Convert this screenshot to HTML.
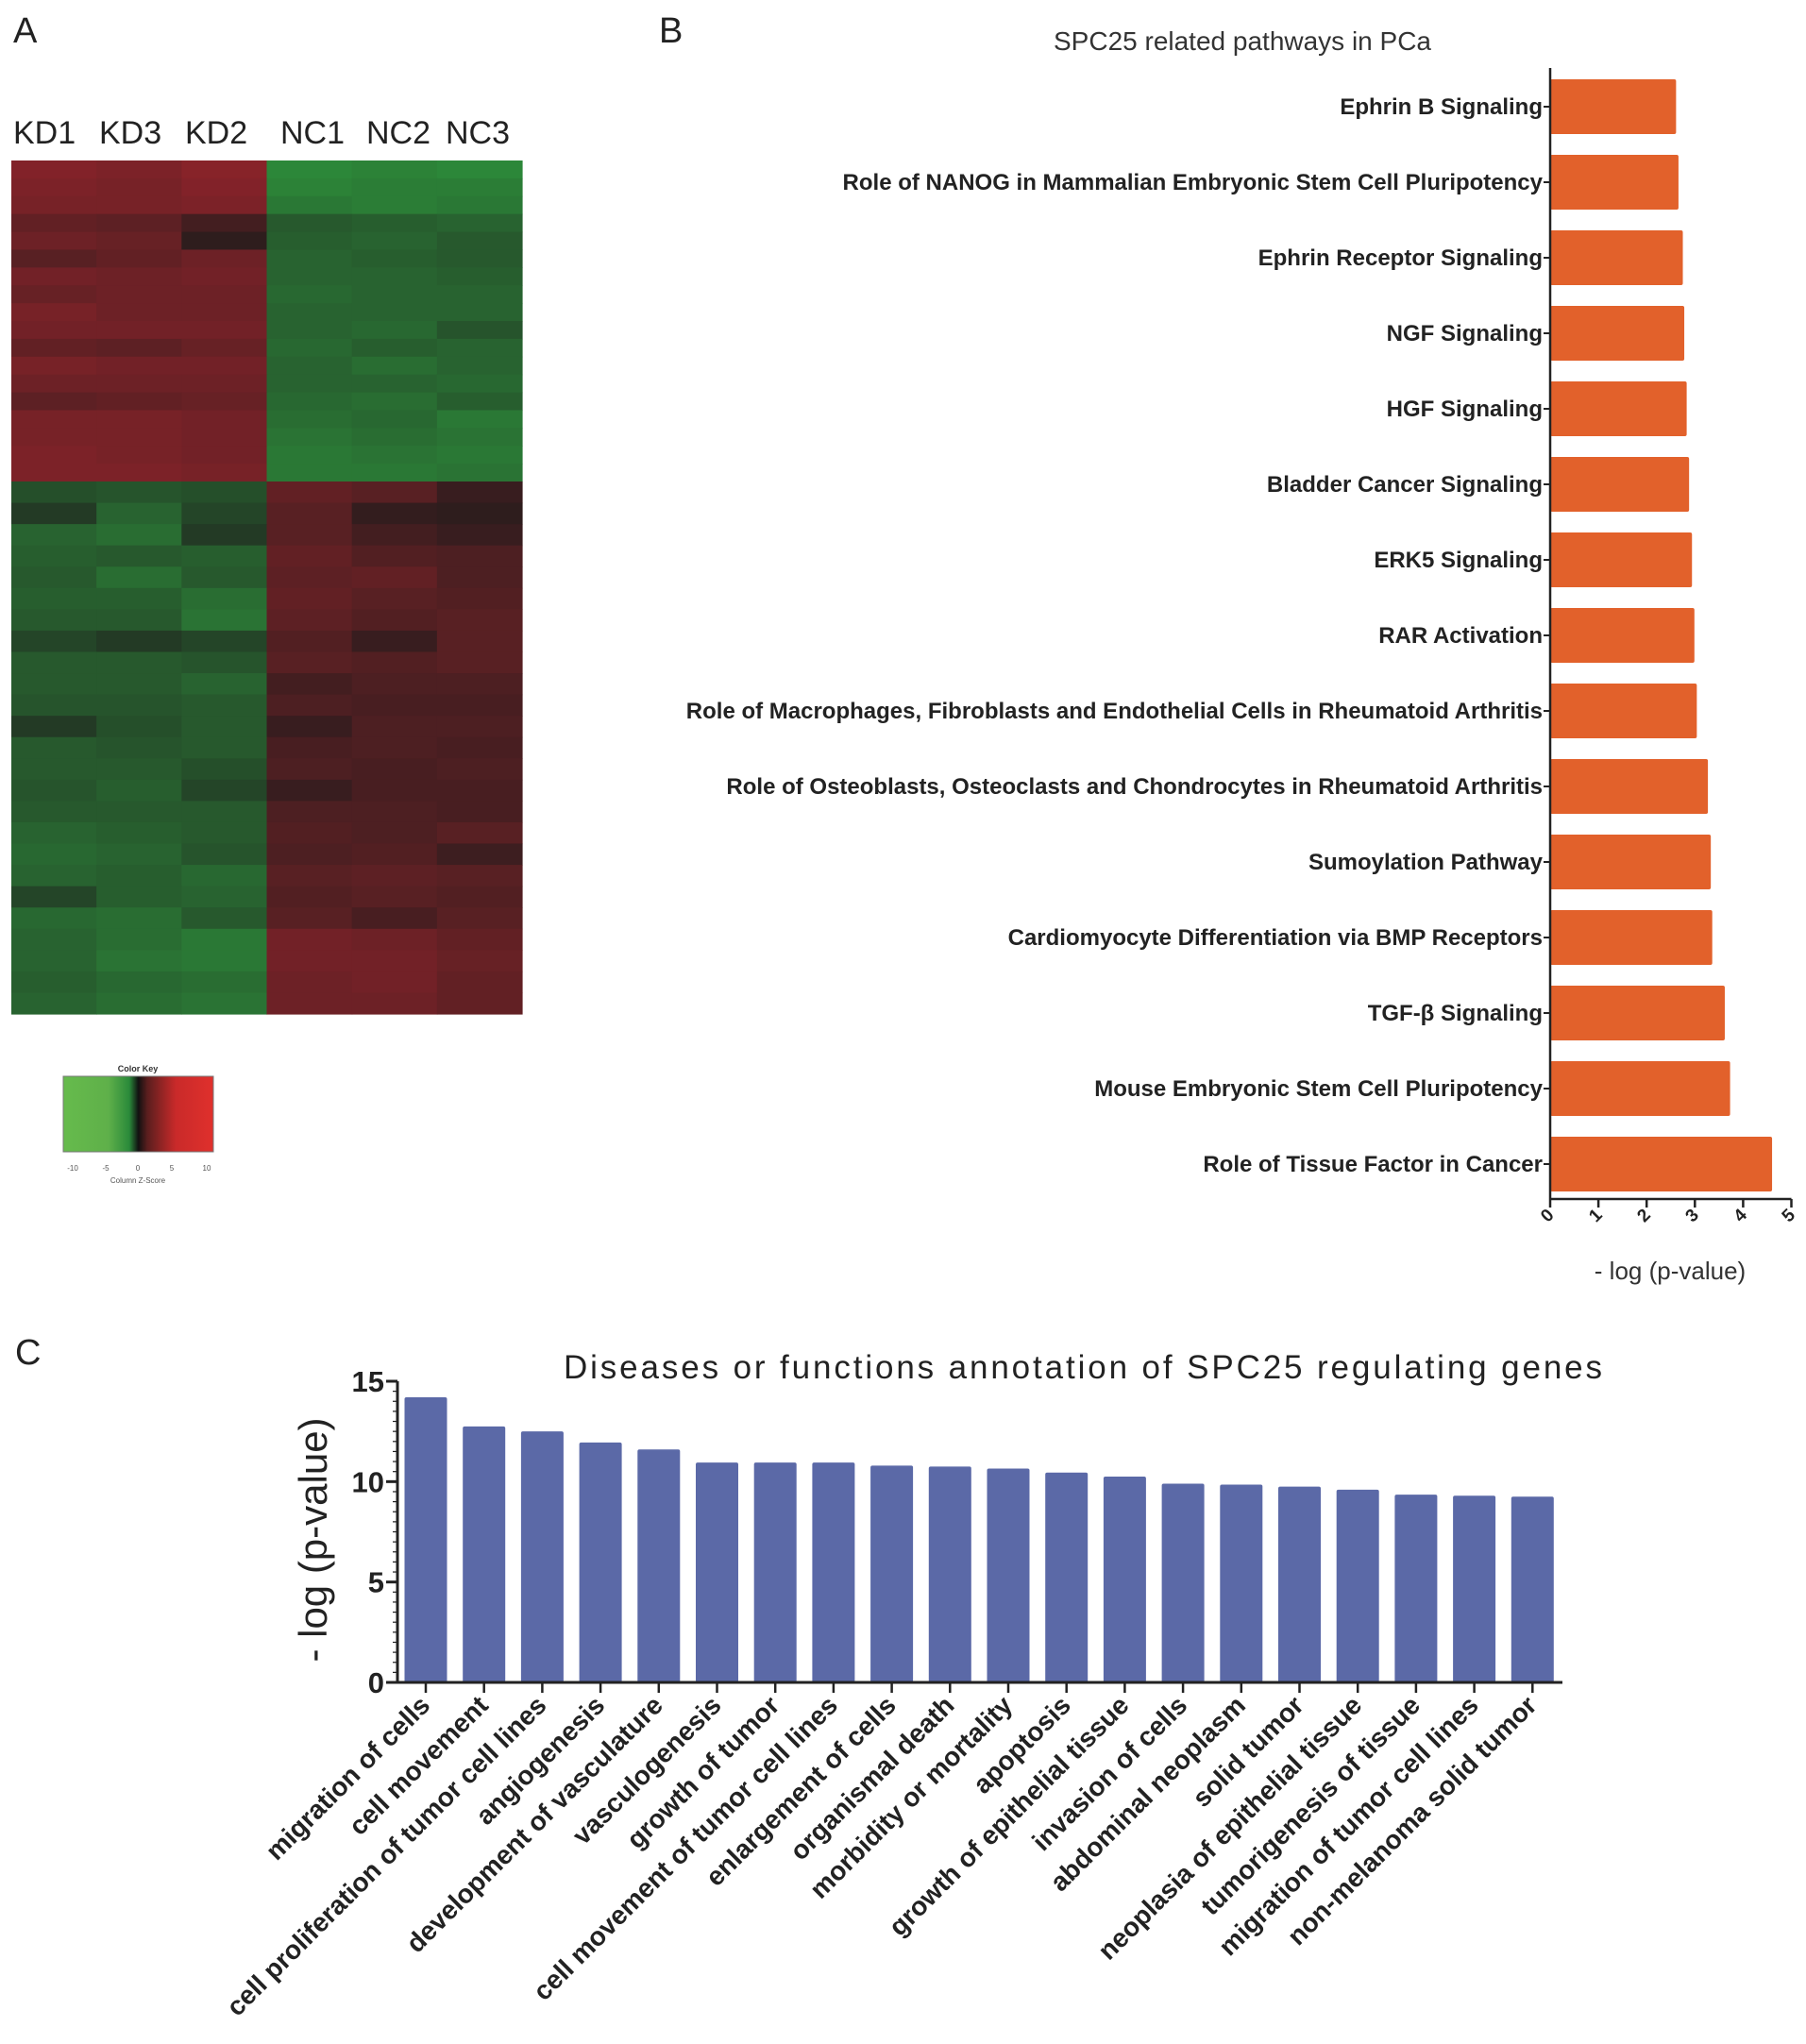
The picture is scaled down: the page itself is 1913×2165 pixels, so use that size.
<!DOCTYPE html>
<html><head><meta charset="utf-8">
<style>
html,body{margin:0;padding:0;background:#fff;}
svg{display:block;font-family:"Liberation Sans",Arial,sans-serif;}
</style></head>
<body>
<svg id="fig" width="1913" height="2165" viewBox="0 0 1913 2165" xmlns="http://www.w3.org/2000/svg">
  <text x="14" y="45" font-size="38" fill="#222">A</text>
  <text x="698" y="45" font-size="38" fill="#222">B</text>
  <text x="16" y="1445" font-size="38" fill="#222">C</text>
  <g id="heat"></g>
  <g id="hlabels"></g>
  <g id="key">
    <defs>
      <linearGradient id="kg" x1="0" x2="1" y1="0" y2="0">
        <stop offset="0" stop-color="#66bb4c"/>
        <stop offset="0.3" stop-color="#5fb04a"/>
        <stop offset="0.44" stop-color="#2a8a3a"/>
        <stop offset="0.5" stop-color="#111"/>
        <stop offset="0.56" stop-color="#5a1e1e"/>
        <stop offset="0.75" stop-color="#c92a2a"/>
        <stop offset="1" stop-color="#e0302c"/>
      </linearGradient>
    </defs>
    <text x="146" y="1135" font-size="9" font-weight="bold" text-anchor="middle" fill="#333">Color Key</text>
    <rect x="67" y="1140" width="159" height="80" fill="url(#kg)" stroke="#777" stroke-width="1"/>
    <text x="146" y="1253" font-size="8" text-anchor="middle" fill="#555">Column Z-Score</text>
    <g font-size="8" fill="#555" text-anchor="middle">
      <text x="77" y="1240">-10</text><text x="112" y="1240">-5</text><text x="146" y="1240">0</text><text x="182" y="1240">5</text><text x="219" y="1240">10</text>
    </g>
  </g>
  <g id="chartB"></g>
  <g id="chartC"></g>
</svg>
<script>
// ---------- Heatmap data (6 columns KD1 KD3 KD2 NC1 NC2 NC3; +red / -green)
const heatCols = ["KD1","KD3","KD2","NC1","NC2","NC3"];
const heatTopRows = [
 [0.9,0.85,0.95,-0.95,-0.9,-0.95],[0.85,0.8,0.9,-0.9,-0.85,-0.85],[0.8,0.8,0.85,-0.8,-0.85,-0.8],
 [0.6,0.55,0.3,-0.5,-0.55,-0.6],[0.7,0.65,0.1,-0.55,-0.6,-0.5],[0.5,0.6,0.7,-0.6,-0.55,-0.5],
 [0.75,0.7,0.75,-0.6,-0.6,-0.55],[0.65,0.7,0.7,-0.65,-0.6,-0.6],[0.8,0.7,0.7,-0.6,-0.6,-0.6],
 [0.75,0.75,0.75,-0.6,-0.65,-0.45],[0.6,0.55,0.65,-0.65,-0.55,-0.6],[0.8,0.75,0.75,-0.6,-0.7,-0.6],
 [0.7,0.7,0.7,-0.6,-0.6,-0.65],[0.55,0.6,0.65,-0.65,-0.7,-0.55],[0.8,0.8,0.75,-0.7,-0.65,-0.8],
 [0.8,0.8,0.75,-0.75,-0.7,-0.75],[0.85,0.8,0.75,-0.8,-0.75,-0.8],[0.85,0.85,0.8,-0.8,-0.8,-0.75]
];
const heatBottomRows = [
 [-0.4,-0.45,-0.4,0.6,0.5,0.2],[-0.2,-0.6,-0.3,0.5,0.15,0.1],[-0.6,-0.7,-0.2,0.5,0.3,0.2],
 [-0.55,-0.5,-0.55,0.6,0.45,0.4],[-0.5,-0.7,-0.5,0.55,0.6,0.4],[-0.55,-0.55,-0.7,0.6,0.5,0.45],
 [-0.5,-0.5,-0.75,0.55,0.45,0.5],[-0.3,-0.2,-0.3,0.45,0.2,0.5],[-0.5,-0.5,-0.45,0.5,0.45,0.5],
 [-0.5,-0.5,-0.6,0.3,0.4,0.4],[-0.45,-0.45,-0.5,0.4,0.35,0.35],[-0.2,-0.4,-0.5,0.2,0.4,0.4],
 [-0.5,-0.45,-0.5,0.35,0.4,0.35],[-0.5,-0.5,-0.4,0.4,0.35,0.4],[-0.45,-0.55,-0.3,0.2,0.35,0.35],
 [-0.5,-0.5,-0.5,0.4,0.4,0.35],[-0.6,-0.55,-0.5,0.45,0.4,0.5],[-0.65,-0.6,-0.45,0.4,0.45,0.25],
 [-0.6,-0.55,-0.65,0.5,0.55,0.5],[-0.3,-0.55,-0.6,0.45,0.5,0.45],[-0.65,-0.7,-0.5,0.5,0.35,0.5],
 [-0.6,-0.7,-0.8,0.75,0.7,0.6],[-0.6,-0.75,-0.8,0.75,0.75,0.65],[-0.55,-0.65,-0.7,0.7,0.75,0.6],
 [-0.6,-0.7,-0.75,0.7,0.7,0.6]
];
// ---------- Panel B data
const pathways = ["Ephrin B Signaling","Role of NANOG in Mammalian Embryonic Stem Cell Pluripotency","Ephrin Receptor Signaling","NGF Signaling","HGF Signaling","Bladder Cancer Signaling","ERK5 Signaling","RAR Activation","Role of Macrophages, Fibroblasts and Endothelial Cells in Rheumatoid Arthritis","Role of Osteoblasts, Osteoclasts and Chondrocytes in Rheumatoid Arthritis","Sumoylation Pathway","Cardiomyocyte Differentiation via BMP Receptors","TGF-β Signaling","Mouse Embryonic Stem Cell Pluripotency","Role of Tissue Factor in Cancer"];
const pathwayValues = [2.61,2.66,2.75,2.78,2.83,2.88,2.94,2.99,3.04,3.27,3.33,3.36,3.62,3.73,4.6];
const pathwayTicks = [0,1,2,3,4,5];
// ---------- Panel C data
const diseases = ["migration of cells","cell movement","cell proliferation of tumor cell lines","angiogenesis","development of vasculature","vasculogenesis","growth of tumor","cell movement of tumor cell lines","enlargement of cells","organismal death","morbidity or mortality","apoptosis","growth of epithelial tissue","invasion of cells","abdominal neoplasm","solid tumor","neoplasia of epithelial tissue","tumorigenesis of tissue","migration of tumor cell lines","non-melanoma solid tumor"];
const diseaseValues = [14.2,12.75,12.5,11.95,11.6,10.95,10.95,10.95,10.8,10.75,10.65,10.45,10.25,9.9,9.85,9.75,9.6,9.35,9.3,9.25];
const diseaseTicks = [0,5,10,15];

const NS="http://www.w3.org/2000/svg";
function mk(tag,attrs,parent){const e=document.createElementNS(NS,tag);for(const k in attrs)e.setAttribute(k,attrs[k]);parent.appendChild(e);return e;}

// ---- heatmap
(function(){
  const g=document.getElementById('heat');
  const x0=12,x1=553,y0=170,ymid=510,y1=1074;
  const cw=(x1-x0)/heatCols.length;
  function col(z){
    if(z>=0){const r=Math.round(35+z*(140-35)),gg=Math.round(28+z*(35-28)),b=Math.round(28+z*(42-28));return `rgb(${r},${gg},${b})`;}
    const a=-z;return `rgb(${Math.round(32+a*(45-32))},${Math.round(38+a*(140-38))},${Math.round(32+a*(58-32))})`;
  }
  function block(rows,ya,yb){
    const rh=(yb-ya)/rows.length;
    rows.forEach((row,i)=>{row.forEach((v,j)=>{
      const r=mk('rect',{x:x0+j*cw,y:ya+i*rh,width:cw+0.6,height:rh+0.6,fill:col(v)},g);
      
      
    });});
  }
  block(heatTopRows,y0,ymid);
  block(heatBottomRows,ymid,y1);
  const hl=document.getElementById('hlabels');
  const lx=[14,105,196,297,388,472];
  heatCols.forEach((c,j)=>{
    const t=mk('text',{x:lx[j],y:152,'font-size':34,fill:'#222'},hl);t.textContent=c;
    
    
  });
})();

// ---- Panel B
(function(){
  const g=document.getElementById('chartB');
  const ax=1642, unit=51.1, top=72, bottom=1270, c0=113, pitch=80, bh=58;
  const sx=v=>ax+v*unit;
  const t=mk('text',{x:1316,y:53,'font-size':28,'text-anchor':'middle',fill:'#333'},g);t.textContent="SPC25  related pathways in PCa";
  
  
  pathways.forEach((p,i)=>{
    const cy=c0+i*pitch;
    const r=mk('rect',{x:ax,y:cy-bh/2,width:sx(pathwayValues[i])-ax,height:bh,fill:'#e2612b',rx:2},g);
    
    
    mk('line',{x1:ax-7,x2:ax,y1:cy,y2:cy,stroke:'#222','stroke-width':2},g);
    const l=mk('text',{x:ax-8,y:cy+8,'font-size':24,'font-weight':'bold','text-anchor':'end',fill:'#222'},g);l.textContent=p;
    
    
  });
  mk('line',{x1:ax,x2:ax,y1:top,y2:bottom,stroke:'#222','stroke-width':2.5},g);
  mk('line',{x1:ax,x2:sx(5),y1:bottom,y2:bottom,stroke:'#222','stroke-width':2.5},g);
  pathwayTicks.forEach(v=>{
    mk('line',{x1:sx(v),x2:sx(v),y1:bottom,y2:bottom+9,stroke:'#222','stroke-width':2.5},g);
    const tt=mk('text',{x:0,y:0,'font-size':19,'font-weight':'bold','text-anchor':'end',fill:'#222',transform:`translate(${sx(v)+5},${bottom+18}) rotate(-45)`},g);
    tt.textContent=v;
    
    
  });
  const xt=mk('text',{x:1769,y:1355,'font-size':26,'text-anchor':'middle',fill:'#333'},g);xt.textContent="- log (p-value)";
  
  
})();

// ---- Panel C
(function(){
  const g=document.getElementById('chartC');
  const ax=421, base=1782, top15=1463, c0=451, pitch=61.7, bw=45, xend=1655;
  const sy=v=>base-(v/15)*(base-top15);
  const t=mk('text',{x:1147,y:1460,'font-size':35,'text-anchor':'middle',fill:'#222',textLength:1100,lengthAdjust:'spacing'},g);
  t.textContent="Diseases or functions annotation of SPC25 regulating genes";
  
  
  diseases.forEach((d,i)=>{
    const cx=c0+i*pitch;
    const r=mk('rect',{x:cx-bw/2,y:sy(diseaseValues[i]),width:bw,height:base-sy(diseaseValues[i]),fill:'#5b69a7',rx:2},g);
    
    
    mk('line',{x1:cx,x2:cx,y1:base,y2:base+11,stroke:'#222','stroke-width':2.5},g);
    const l=mk('text',{x:0,y:0,'font-size':28,'text-anchor':'end',fill:'#222','font-weight':'bold',transform:`translate(${cx+6},${base+26}) rotate(-45)`},g);
    l.textContent=d;
    
    
  });
  mk('line',{x1:ax,x2:ax,y1:top15,y2:base,stroke:'#222','stroke-width':3},g);
  mk('line',{x1:ax-12,x2:xend,y1:base,y2:base,stroke:'#222','stroke-width':3},g);
  for(let v=0;v<=15;v+=0.5){mk('line',{x1:ax-5,x2:ax,y1:sy(v),y2:sy(v),stroke:'#222','stroke-width':1.2},g);}
  diseaseTicks.forEach(v=>{
    mk('line',{x1:ax-12,x2:ax,y1:sy(v),y2:sy(v),stroke:'#222','stroke-width':3},g);
    const tt=mk('text',{x:ax-14,y:sy(v)+11,'font-size':31,'font-weight':'bold','text-anchor':'end',fill:'#222'},g);
    tt.textContent=v;
    
    
  });
  const yt=mk('text',{x:0,y:0,'font-size':42,'text-anchor':'middle',fill:'#222',transform:'translate(346,1631) rotate(-90)'},g);
  yt.textContent="- log (p-value)";
  
  
})();
</script>
</body></html>
